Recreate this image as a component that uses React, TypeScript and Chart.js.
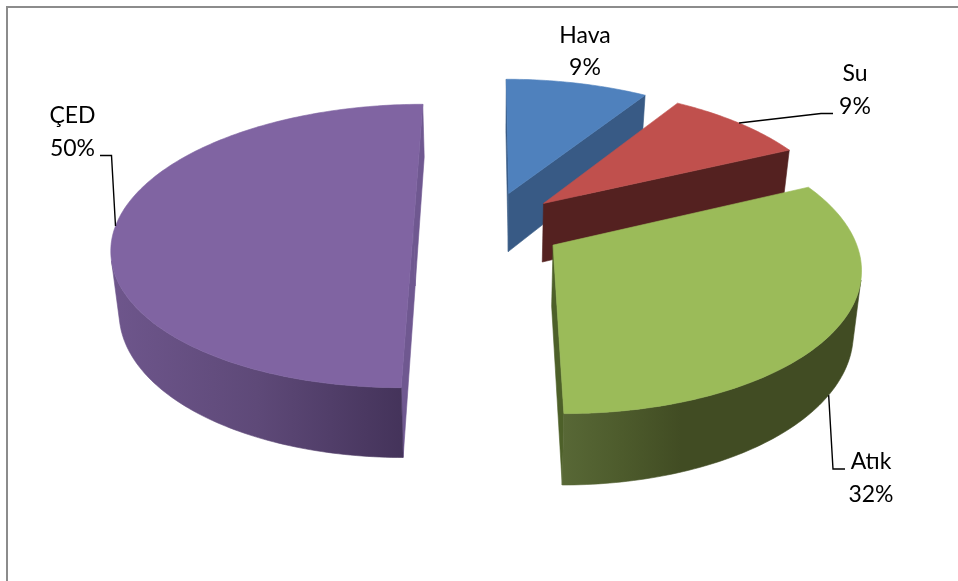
import React, { useEffect, useRef } from "react";
import { Chart, registerables } from "chart.js";

Chart.register(...registerables);

// Shares of the four environmental topics, clockwise from twelve o'clock.
const categories = ["Hava", "Su", "Atık", "ÇED"];
const shares = [9, 9, 32, 50];
const topColors = ["#4F81BD", "#C0504D", "#9BBB59", "#8064A2"];
const cutColors = ["#385A85", "#542120", "#4D6029", "#6F5890"];
const rimColors = [
  ["#385A85", "#385A85"],
  ["#542120", "#542120"],
  ["#586836", "#4D5B2C", "#414C23", "#414C23", "#414C23", "#414C23"],
  ["#6E568C", "#5E4978", "#44335A"],
];

// Viewing set-up of the tilted disc.
const TILT = 0.466;
const PERSPECTIVE = 0.000473;
const THICKNESS = 60;
const FLOOR_SHRINK = 0.978;
const EXPLODE = 75;
const PIE_RADIUS = 298;

const FONT = "23px Lato, 'Noto Sans', sans-serif";

// Callout text centres and leader routes, one per category.
const callouts = [
  { textX: 585, baselines: [43, 75], route: null, onFloor: false },
  { textX: 855, baselines: [81, 114], route: [[821, 113.5], [833, 113.5]], onFloor: false },
  { textX: 871, baselines: [469, 502], route: [[833, 469], [845, 469]], onFloor: true },
  { textX: 72.5, baselines: [123, 156], route: [[111.5, 155.5], [100, 155.5]], onFloor: false },
];

type Pt = { x: number; y: number };

const toScreen = (cx: number, cy: number, u: number, v: number, floor: boolean): Pt => {
  const s = 1 / (1 - PERSPECTIVE * v);
  return {
    x: cx + u * s * (floor ? FLOOR_SHRINK : 1),
    y: cy + TILT * v * s + (floor ? THICKNESS * s : 0),
  };
};

const signedArea = (pts: Pt[]) => {
  let sum = 0;
  pts.forEach((p, i) => {
    const q = pts[(i + 1) % pts.length];
    sum += p.x * q.y - q.x * p.y;
  });
  return sum / 2;
};

const fillPolygon = (ctx: CanvasRenderingContext2D, pts: Pt[], fill: string | CanvasGradient) => {
  ctx.beginPath();
  pts.forEach((p, i) => (i ? ctx.lineTo(p.x, p.y) : ctx.moveTo(p.x, p.y)));
  ctx.closePath();
  ctx.fillStyle = fill;
  ctx.strokeStyle = fill;
  ctx.lineWidth = 0.6;
  ctx.fill();
  ctx.stroke();
};

const pointOnSlice = (arc: any, angle: number, r: number, floor: boolean): Pt => {
  const mid = (arc.startAngle + arc.endAngle) / 2;
  const off = arc.options.offset || 0;
  const u = Math.cos(mid) * off + r * Math.cos(angle);
  const v = Math.sin(mid) * off + r * Math.sin(angle);
  return toScreen(arc.x, arc.y, u, v, floor);
};

const drawSlice = (ctx: CanvasRenderingContext2D, arc: any, index: number) => {
  const { startAngle, endAngle, outerRadius } = arc;
  const steps = Math.max(8, Math.ceil((endAngle - startAngle) / (Math.PI / 180)));
  const angles = Array.from({ length: steps + 1 }, (_, i) => startAngle + ((endAngle - startAngle) * i) / steps);
  const top = angles.map((a) => pointOnSlice(arc, a, outerRadius, false));
  const floor = angles.map((a) => pointOnSlice(arc, a, outerRadius, true));
  const apexTop = pointOnSlice(arc, 0, 0, false);
  const apexFloor = pointOnSlice(arc, 0, 0, true);
  const outline = [apexTop, ...top];
  const winding = Math.sign(signedArea(outline));
  const faces = (quad: Pt[]) => Math.sign(signedArea(quad)) !== winding;

  // Straight cut walls on either side of the wedge.
  const last = angles.length - 1;
  const cutA = [apexTop, top[0], floor[0], apexFloor];
  const cutB = [top[last], apexTop, apexFloor, floor[last]];
  if (faces(cutA)) fillPolygon(ctx, cutA, cutColors[index]);
  if (faces(cutB)) fillPolygon(ctx, cutB, cutColors[index]);

  // Curved outer wall: only the runs of segments turned towards the viewer.
  let run: number[] = [];
  const flush = () => {
    if (run.length > 1) {
      const upper = run.map((i) => top[i]);
      const lower = run.map((i) => floor[i]).reverse();
      const poly = [...upper, ...lower];
      const xs = poly.map((p) => p.x);
      const grad = ctx.createLinearGradient(Math.min(...xs), 0, Math.max(...xs), 0);
      const stops = rimColors[index];
      stops.forEach((c, i) => grad.addColorStop(i / (stops.length - 1), c));
      fillPolygon(ctx, poly, grad);
    }
    run = [];
  };
  for (let i = 0; i < last; i++) {
    if (faces([top[i], top[i + 1], floor[i + 1], floor[i]])) {
      if (!run.length) run.push(i);
      run.push(i + 1);
    } else {
      flush();
    }
  }
  flush();

  fillPolygon(ctx, outline, arc.options.backgroundColor);
};

const drawCallout = (ctx: CanvasRenderingContext2D, arc: any, index: number) => {
  const { textX, baselines, route, onFloor } = callouts[index];
  const mid = (arc.startAngle + arc.endAngle) / 2;
  if (route) {
    const start = pointOnSlice(arc, mid, arc.outerRadius, onFloor);
    ctx.beginPath();
    ctx.moveTo(start.x, start.y);
    route.forEach(([x, y]) => ctx.lineTo(x, y));
    ctx.strokeStyle = "#000000";
    ctx.lineWidth = 1.4;
    ctx.stroke();
  }
  ctx.font = FONT;
  ctx.fillStyle = "#000000";
  ctx.textAlign = "center";
  ctx.textBaseline = "alphabetic";
  ctx.fillText(categories[index], textX, baselines[0]);
  ctx.fillText(`${shares[index]}%`, textX, baselines[1]);
};

const tiltedPie = {
  id: "tiltedPie",
  beforeDraw(chart: any) {
    // Plot frame along the top and left edges.
    const { ctx, width, height } = chart;
    ctx.save();
    ctx.fillStyle = "#FFFFFF";
    ctx.fillRect(0, 0, width, height);
    ctx.strokeStyle = "#8C8C8C";
    ctx.lineWidth = 2;
    ctx.beginPath();
    ctx.moveTo(7, height);
    ctx.lineTo(7, 7);
    ctx.lineTo(width, 7);
    ctx.stroke();
    ctx.restore();
  },
  beforeDatasetDraw(chart: any, args: any) {
    const arcs = chart.getDatasetMeta(args.index).data;
    const { ctx } = chart;
    ctx.save();
    // Paint the wedges from the far side of the disc to the near side.
    const depthOf = (arc: any) => Math.sin((arc.startAngle + arc.endAngle) / 2) * (arc.options.offset || 0);
    const order = arcs.map((_: any, i: number) => i).sort((a: number, b: number) => depthOf(arcs[a]) - depthOf(arcs[b]));
    order.forEach((i: number) => drawSlice(ctx, arcs[i], i));
    arcs.forEach((arc: any, i: number) => drawCallout(ctx, arc, i));
    ctx.restore();
    return false;
  },
};

export default function App() {
  const canvasRef = useRef<HTMLCanvasElement>(null);

  useEffect(() => {
    const chart = new Chart(canvasRef.current as HTMLCanvasElement, {
      type: "pie",
      data: {
        labels: categories,
        datasets: [
          {
            data: shares,
            backgroundColor: topColors,
            borderWidth: 0,
            offset: EXPLODE,
          },
        ],
      },
      options: {
        animation: false,
        responsive: false,
        radius: PIE_RADIUS,
        layout: { padding: { left: 19, bottom: 129 } },
        events: [],
        plugins: { legend: { display: false }, tooltip: { enabled: false } },
      },
      plugins: [tiltedPie],
    } as any);
    return () => chart.destroy();
  }, []);

  return (
    <div style={{ position: "fixed", left: 0, top: 0 }}>
      <canvas ref={canvasRef} width={958} height={581} style={{ display: "block" }} />
    </div>
  );
}
